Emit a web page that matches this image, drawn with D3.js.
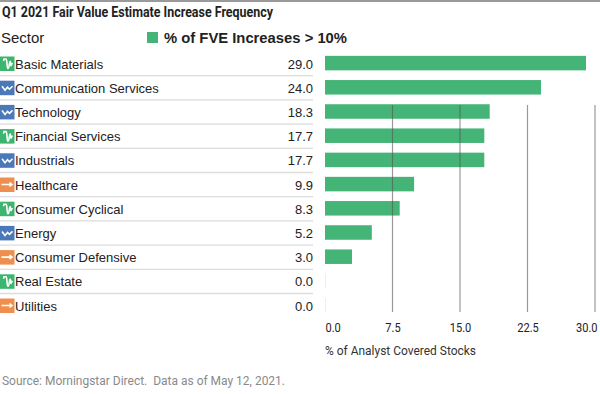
<!DOCTYPE html>
<html>
<head>
<meta charset="utf-8">
<script src="https://cdn.jsdelivr.net/npm/d3@7"></script>
<style>
  html, body { margin: 0; padding: 0; background: #fff; }
  svg { display: block; }
  text { font-family: "Liberation Sans", Arial, sans-serif; }
</style>
</head>
<body>
<div class="canvas"></div>
<script>
// data
const sectors = ['Basic Materials', 'Communication Services', 'Technology', 'Financial Services', 'Industrials',
    'Healthcare', 'Consumer Cyclical', 'Energy', 'Consumer Defensive', 'Real Estate', 'Utilities'];
const values = [29.0, 24.0, 18.3, 17.7, 17.7, 9.9, 8.3, 5.2, 3.0, 0.0, 0.0];
// c = cyclical, s = sensitive, d = defensive
const sectorTypes = ['c', 's', 's', 'c', 's', 'd', 'c', 's', 'd', 'c', 'd'];
const ticks = [0, 7.5, 15, 22.5, 30];

const iconColors = { c: '#3cb56e', s: '#4a78b8', d: '#ef8f4f' };
const iconGlyphs = {
    c: 'M3.5 4.5 L4 2.5 L6 2.5 C7.5 2.5 6.5 12 8 12 C9.5 12 9 5 10.2 5 L10.8 8 M9.5 7 L11 8.8 L12.4 6.5',
    s: 'M2 5.5 L5 9.5 L7.5 6.5 L9.5 8.5 L12.5 5.5',
    d: 'M1.5 7 L11.5 7 M9.5 5 L12 7 L9.5 9'
};

// dimensions
const dims = { width: 600, height: 394 };
const plot = { left: 325, top: 51, bottom: 317.2 };

const svg = d3.select('.canvas')
    .append('svg')
    .attr('width', dims.width)
    .attr('height', dims.height);

// scales
const x = d3.scaleLinear().domain([0, 30]).range([plot.left, 595]);
const y = d3.scaleBand().domain(sectors).range([plot.top, plot.bottom]).paddingInner(0.4).paddingOuter(0.2);
const rowY = d3.scaleBand().domain(sectors).range([plot.top, plot.bottom]);

// top rule
svg.append('rect').attr('x', 0).attr('y', 0).attr('width', 600).attr('height', 2).attr('fill', '#9a9a9a');

// title
svg.append('text')
    .attr('x', 2).attr('y', 17)
    .attr('font-weight', 700)
    .attr('font-size', 14)
    .attr('fill', '#222')
    .attr('textLength', 271)
    .attr('lengthAdjust', 'spacingAndGlyphs')
    .style('font-family', 'Roboto')
    .text('Q1 2021 Fair Value Estimate Increase Frequency');

// header
svg.append('text').attr('x', 1).attr('y', 43).attr('font-size', 15).attr('fill', '#222').text('Sector');
svg.append('rect').attr('x', 147).attr('y', 32).attr('width', 11).attr('height', 11).attr('fill', '#45b577');
svg.append('text').attr('x', 164).attr('y', 43).attr('font-size', 14.8).attr('font-weight', 700).attr('fill', '#222')
    .text('% of FVE Increases > 10%');

// rows
const rows = svg.append('g').selectAll('g')
    .data(sectors)
    .enter()
    .append('g')
        .attr('transform', d => `translate(0, ${rowY(d)})`);

rows.filter((d, i) => i < sectors.length - 1)
    .append('line')
        .attr('x1', 0).attr('x2', 313)
        .attr('y1', rowY.bandwidth() + 0.5).attr('y2', rowY.bandwidth() + 0.5)
        .attr('stroke', '#dcdcdc')
        .attr('stroke-width', 1.3);

rows.append('rect')
    .attr('x', 0).attr('y', 5.5)
    .attr('width', 14.5).attr('height', 14.5)
    .attr('fill', (d, i) => iconColors[sectorTypes[i]]);

rows.append('path')
    .attr('transform', 'translate(0, 5.5)')
    .attr('d', (d, i) => iconGlyphs[sectorTypes[i]])
    .attr('fill', 'none')
    .attr('stroke', '#fff')
    .attr('stroke-width', 1.6);

rows.append('text')
    .attr('x', 15).attr('y', 17.5)
    .attr('font-size', 13)
    .attr('fill', '#222')
    .text(d => d);

rows.append('text')
    .attr('x', 313).attr('y', 17.5)
    .attr('text-anchor', 'end')
    .attr('font-size', 13)
    .attr('fill', '#222')
    .text((d, i) => values[i].toFixed(1));

// bars
svg.append('g').selectAll('rect')
    .data(values)
    .enter()
    .append('rect')
        .attr('x', x(0))
        .attr('y', (d, i) => y(sectors[i]))
        .attr('width', d => Math.max(x(d) - x(0), 1))
        .attr('height', y.bandwidth())
        .attr('fill', d => d > 0 ? '#45b577' : '#e3f5ec');

// gridlines go over the bars
svg.append('g').selectAll('line')
    .data(ticks.slice(1))
    .enter()
    .append('line')
        .attr('x1', d => x(d)).attr('x2', d => x(d))
        .attr('y1', 105).attr('y2', 312)
        .attr('stroke', '#555')
        .attr('stroke-opacity', 0.6)
        .attr('stroke-width', 1.2);

// x axis, labels only
const axis = svg.append('g')
    .attr('transform', 'translate(0, 312)')
    .call(d3.axisBottom(x).tickValues(ticks).tickFormat(d3.format('.1f')).tickSize(0).tickPadding(11));
axis.select('.domain').remove();
axis.selectAll('text')
    .style('font-family', 'Roboto')
    .attr('font-size', 13)
    .attr('fill', '#222')
    .attr('text-anchor', d => d == 30 ? 'end' : d == 0 ? 'start' : 'middle')
    .attr('transform', d => `translate(${d == 30 ? 2 : 0}, 0) scale(0.85, 1)`);

svg.append('text')
    .attr('x', 325).attr('y', 355)
    .attr('font-size', 13)
    .attr('fill', '#333')
    .attr('textLength', 151)
    .attr('lengthAdjust', 'spacingAndGlyphs')
    .style('font-family', 'Roboto')
    .text('% of Analyst Covered Stocks');

// footer
svg.append('text')
    .attr('x', 2).attr('y', 385)
    .attr('font-size', 12.5)
    .attr('fill', '#8a8a8a')
    .attr('textLength', 283)
    .attr('lengthAdjust', 'spacingAndGlyphs')
    .style('font-family', 'Roboto')
    .text('Source: Morningstar Direct.\u00a0 Data as of May 12, 2021.');
</script>
</body>
</html>
